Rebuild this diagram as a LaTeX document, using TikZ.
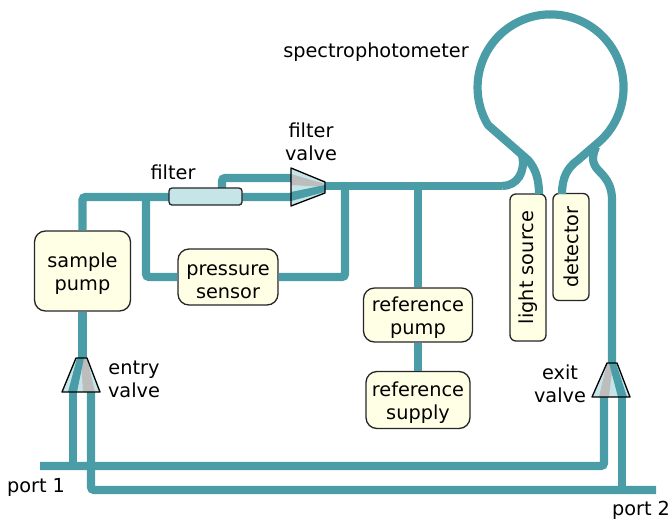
\documentclass[tikz,border=0pt]{standalone}
\usepackage{fontspec}
\setmainfont{DejaVu Sans}
\definecolor{pipecolor}{HTML}{4A9DA6}
\definecolor{boxcolor}{HTML}{FFFFE6}
\definecolor{glasscolor}{HTML}{C5E5E8}
\definecolor{closedcolor}{HTML}{BDBDBD}
\tikzset{
	pipe/.style={draw=pipecolor,line width=8.2pt,rounded corners=3pt},
	tube/.style={draw=pipecolor,line width=8.2pt,line join=round},
	unit/.style={draw=black!85,line width=1.3pt,fill=boxcolor,rounded corners=11pt,align=center,inner sep=0pt,text height=43pt},
	slim/.style={draw=black!85,line width=1.3pt,fill=boxcolor,rounded corners=6pt,inner sep=0pt,rotate=90},
	cartridge/.style={draw=black!85,line width=1.3pt,fill=glasscolor,rounded corners=3pt,inner sep=0pt},
	valve/.style={draw=black,line width=1.3pt,line join=round},
	label/.style={align=center,inner sep=0pt}
}
\begin{document}
\begin{tikzpicture}[x=1pt,y=-1pt,font=\fontsize{19.3}{23}\selectfont,node distance=85pt]
	\useasboundingbox (0,0) rectangle (672,520);

	\node[unit,minimum width=96pt,minimum height=80pt]  (samplepump) at (82.5,271)  {sample\\pump};
	\node[unit,minimum width=100pt,minimum height=56pt] (sensor)     at (228,277)   {pressure\\sensor};
	\node[unit,minimum width=109pt,minimum height=54pt] (refpump)    at (418,315)   {reference\\pump};
	\node[unit,minimum width=104pt,minimum height=57pt] (refsupply)  [below of = refpump] {reference\\supply};
	\node[slim,minimum width=147pt,minimum height=36pt] (lightsource) at (528,267.5) {light source};
	\node[slim,minimum width=107pt,minimum height=36pt] (detector)    at (571,247)   {detector};

	\coordinate (circleleft)  at (488,125);
	\coordinate (splitleft)   at (522,155);
	\coordinate (splitright)  at (596,147);
	\coordinate (inlet)       at (502,186);
	\coordinate (teefilter)   at (146,197);
	\coordinate (teesensor)   at (345,186);
	\coordinate (teeref)      at (418,186);
	\coordinate (entryin)     at (82.5,358);
	\coordinate (entryopen)   at (73,392);
	\coordinate (entryshut)   at (91,392);
	\coordinate (exitin)      at (612,363);
	\coordinate (exitshut)    at (604,397);
	\coordinate (exitopen)    at (622,397);
	\coordinate (port1)       at (40,466);
	\coordinate (port2)       at (656,490);
	\coordinate (bypass)      at (291,178);
	\coordinate (main)        at (291,197);
	\coordinate (valveout)    at (325,186);

	% spectrophotometer tube
	\draw[tube] (539,194) .. controls (539,178) and (535,168) .. (528,160) -- (circleleft)
		arc[start angle=211,end angle=-47,radius=73pt] -- (578,160)
		.. controls (567,168) and (562,178) .. (562,194);
	\draw[tube] (splitleft) .. controls (526,172) and (517,186) .. (inlet);
	\draw[tube] (splitright) .. controls (590,160) and (594,166) .. (600,172)
		.. controls (608,180) and (612,188) .. (612,200) -- (exitin);

	% pipes
	\draw[pipe] (samplepump.north) -- (samplepump.north |- main) -- (main);
	\draw[pipe] (222,190) -- (222,178) -- (bypass);
	\draw[pipe] (valveout) -- (inlet);
	\draw[pipe] (teefilter) -- (teefilter |- sensor.west) -- (sensor.west);
	\draw[pipe] (sensor.east) -- (teesensor |- sensor.east) -- (teesensor);
	\draw[pipe] (teeref) -- (refpump.north);
	\draw[pipe] (refpump.south) -- (refsupply.north);
	\draw[pipe] (samplepump.south) -- (entryin);
	\draw[pipe] (entryopen) -- (73,466);
	\draw[pipe] (exitshut) -- (604,466) -- (port1);
	\draw[pipe] (entryshut) -- (91,490) -- (port2);
	\draw[pipe] (exitopen) -- (622,490);

	% filter
	\node[cartridge,minimum width=73pt,minimum height=17pt] (filter) at (205.5,196.5) {};

	% entry valve
	\fill[glasscolor]  (76,358) -- (87,358) -- (100,392) -- (62,392) -- cycle;
	\fill[closedcolor] (81,358) -- (87,358) -- (95,392) -- (83,392) -- cycle;
	\fill[pipecolor]   (77,358) -- (84,358) -- (77,392) -- (68,392) -- cycle;
	\draw[valve]       (76,358) -- (87,358) -- (100,392) -- (62,392) -- cycle;

	% exit valve
	\fill[glasscolor]  (607,363) -- (617,363) -- (630,397) -- (592,397) -- cycle;
	\fill[closedcolor] (607,363) -- (613,363) -- (609,397) -- (599,397) -- cycle;
	\fill[pipecolor]   (609,363) -- (616,363) -- (627,397) -- (618,397) -- cycle;
	\draw[valve]       (607,363) -- (617,363) -- (630,397) -- (592,397) -- cycle;

	% filter valve
	\fill[glasscolor]  (291,168) -- (325,182) -- (325,193) -- (291,206) -- cycle;
	\fill[closedcolor] (291,174) -- (325,184) -- (325,187) -- (291,185) -- cycle;
	\fill[pipecolor]   (291,192) -- (325,185) -- (325,192) -- (291,201) -- cycle;
	\draw[valve]       (291,168) -- (325,182) -- (325,193) -- (291,206) -- cycle;

	\node[label] (spectrolabel)  at (376,52)    {spectrophotometer};
	\node[label] (filterlabel)   at (173,172)   {filter};
	\node[label] (fvalvelabel)   at (311,142)   {filter\\valve};
	\node[label] (entrylabel)    at (134,379)   {entry\\valve};
	\node[label] (exitlabel)     at (560,384)   {exit\\valve};
	\node[label] (port1label)    at (36,487)    {port 1};
	\node[label] (port2label)    at (641,510)   {port 2};
\end{tikzpicture}
\end{document}
